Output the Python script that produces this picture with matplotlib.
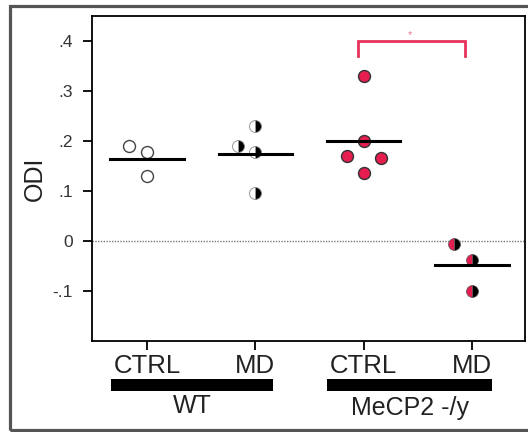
import matplotlib.pyplot as plt
from matplotlib.patches import Rectangle

plt.rcParams['font.family'] = ['Liberation Sans', 'DejaVu Sans']

# groups along the x axis
group_pos = [1, 2, 3, 4]
group_labels = ["CTRL", "MD", "CTRL", "MD"]
genotypes = ["WT", "MeCP2 -/y"]

# ODI values per cell
wt_ctrl = [0.189, 0.177, 0.130]
wt_md = [0.229, 0.190, 0.178, 0.095]
ko_ctrl = [0.329, 0.199, 0.169, 0.165, 0.135]
ko_md = [-0.007, -0.039, -0.101]
means = [0.164, 0.174, 0.199, -0.049]

# horizontal scatter of the dots inside each column
wt_ctrl_dx = [-0.17, 0.0, 0.0]
wt_md_dx = [0.0, -0.16, 0.0, 0.0]
ko_ctrl_dx = [0.0, 0.0, -0.155, 0.16, 0.0]
ko_md_dx = [-0.16, 0.0, 0.0]

yticks = [0.4, 0.3, 0.2, 0.1, 0.0, -0.1]
ytick_labels = [".4", ".3", ".2", ".1", "0", "-.1"]

red = "#e61e50"

fig = plt.figure(figsize=(5.28, 4.32), dpi=100)
ax = fig.add_axes([0.174, 0.211, 0.820, 0.752])

# outer gray frame
fig.patches.append(Rectangle((0.018, 0.0035), 1.2, 0.9815, transform=fig.transFigure,
                             fill=False, edgecolor="#555555", linewidth=2.3))

ax.axhline(0, color="#777777", linestyle=(0, (1, 1)), linewidth=1.0, zorder=1)

ms = 8.6
ax.plot([group_pos[0] + d for d in wt_ctrl_dx], wt_ctrl, "o", ms=ms,
        mfc="white", mec="#444444", mew=1.0, zorder=3)
ax.plot([group_pos[1] + d for d in wt_md_dx], wt_md, "o", ms=ms, fillstyle="right",
        mfc="black", mfcalt="white", mec="#888888", mew=0.6, zorder=3)
ax.plot([group_pos[2] + d for d in ko_ctrl_dx], ko_ctrl, "o", ms=ms,
        mfc=red, mec="#333333", mew=1.0, zorder=3)
ax.plot([group_pos[3] + d for d in ko_md_dx], ko_md, "o", ms=ms, fillstyle="right",
        mfc="black", mfcalt=red, mec="#555555", mew=0.5, zorder=3)

for x, m in zip(group_pos, means):
    ax.plot([x - 0.34, x + 0.34], [m, m], color="black", linewidth=2.2, zorder=4)

# significance bracket
ax.plot([2.95, 2.95, 3.94, 3.94], [0.37, 0.40, 0.40, 0.37], color="#e8325a",
        linewidth=2.0, solid_joinstyle="miter")
ax.text(3.43, 0.412, "*", color="#e87890", fontsize=8, ha="center", va="center")

ax.set_xlim(0.49, 4.49)
ax.set_ylim(-0.2, 0.45)
ax.set_xticks(group_pos)
ax.set_xticklabels(group_labels, fontsize=18.5, color="#222222")
ax.set_yticks(yticks)
ax.set_yticklabels(ytick_labels, fontsize=12.5, color="#333333")
ax.tick_params(axis="x", length=6.5, width=1.3, pad=3)
ax.tick_params(axis="y", length=6.5, width=1.3, pad=7)
ax.set_ylabel("ODI", fontsize=18, color="#222222", labelpad=4)
for s in ax.spines.values():
    s.set_linewidth(1.3)

# genotype bars under the tick labels
bar_spans = [(0.666, 2.166), (2.666, 4.184)]
trans = ax.get_xaxis_transform()
for (x0, x1), name, ty in zip(bar_spans, genotypes, [-0.2, -0.208]):
    ax.add_patch(Rectangle((x0, -0.154), x1 - x0, 0.037, transform=trans,
                           facecolor="black", edgecolor="none", clip_on=False))
    ax.text((x0 + x1) / 2, ty, name, transform=trans, fontsize=18, color="#222222",
            ha="center", va="center")

fig.savefig("out.png", dpi=100)
